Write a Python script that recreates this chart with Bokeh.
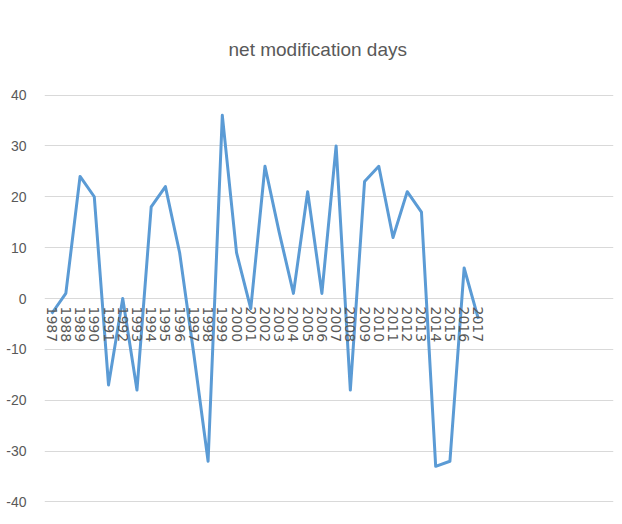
from bokeh.plotting import figure
from bokeh.models import Range1d, FixedTicker, Title
from bokeh.embed import file_html
from bokeh.resources import INLINE

years = list(range(1987, 2018))
days = [-3, 1, 24, 20, -17, 0, -18, 18, 22, 9, -11, -32, 36, 9, -2, 26, 13, 1, 21, 1, 30,
        -18, 23, 26, 12, 21, 17, -33, -32, 6, -4]
y_ticks = [-40, -30, -20, -10, 0, 10, 20, 30, 40]
title_text = "net modification days"

p = figure(width=614, height=516, output_backend="svg", toolbar_location=None,
           x_range=Range1d(1986.5, 2026.5), y_range=Range1d(-40.3, 40.3),
           min_border_left=44, min_border_right=1, min_border_top=93, min_border_bottom=13)
p.title = Title(text=title_text, align="left", offset=184, standoff=68,
                text_font="Liberation Sans", text_font_size="19px",
                text_font_style="normal", text_color="#595959")

p.line(years, days, line_color="#5B9BD5", line_width=3, line_join="round")

p.outline_line_color = None
p.xgrid.grid_line_color = None
p.ygrid.grid_line_color = "#D9D9D9"
p.ygrid.grid_line_width = 1
p.yaxis.ticker = FixedTicker(ticks=y_ticks)
p.ygrid.ticker = FixedTicker(ticks=y_ticks)
p.yaxis.major_label_overrides = {t: str(t) for t in y_ticks}
p.yaxis.axis_line_color = None
p.yaxis.major_tick_line_color = None
p.yaxis.minor_tick_line_color = None
p.yaxis.major_label_standoff = 12
p.yaxis.major_label_text_font = "Liberation Sans"
p.yaxis.major_label_text_font_size = "14px"
p.yaxis.major_label_text_color = "#595959"

p.xaxis.ticker = FixedTicker(ticks=years)
p.xaxis.fixed_location = 0
p.xaxis.axis_line_color = None
p.xaxis.major_tick_line_color = None
p.xaxis.minor_tick_line_color = None
p.xaxis.major_label_orientation = "vertical"
p.xaxis.major_label_standoff = 2
p.xaxis.major_label_text_font = "DejaVu Sans"
p.xaxis.major_label_text_font_size = "14px"
p.xaxis.major_label_text_color = "#595959"

open("out.html", "w").write(file_html(p, INLINE))
